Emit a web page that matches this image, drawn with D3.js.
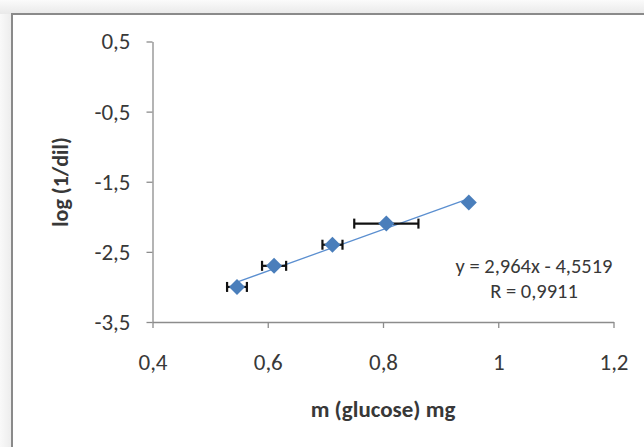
<!DOCTYPE html>
<html>
<head>
<meta charset="utf-8">
<script src="https://cdn.jsdelivr.net/npm/d3@7"></script>
<style>
  html, body { margin: 0; padding: 0; background: #fff; }
  svg { display: block; }
  text { font-family: Carlito, Lato, "Open Sans", sans-serif; }
</style>
</head>
<body>
<script>
// Glucose mass (mg) against log of the reciprocal dilution
const massMg = [0.5466, 0.6110, 0.7123, 0.8058, 0.9489];
const logInvDil = [-3.000, -2.699, -2.398, -2.097, -1.796];
const massErr = [0.0172, 0.0209, 0.0174, 0.0557, 0];
const xTicks = [0.4, 0.6, 0.8, 1.0, 1.2];
const yTicks = [0.5, -0.5, -1.5, -2.5, -3.5];
const slope = 2.964, intercept = -4.5519, rValue = 0.9911;

const W = 644, H = 447;
const svg = d3.select("body").append("svg").attr("width", W).attr("height", H);

// soft shaded surround outside the chart frame
const defs = svg.append("defs");
const gTop = defs.append("linearGradient").attr("id", "shadeTop").attr("x1", 0).attr("y1", 0).attr("x2", 0).attr("y2", 1);
gTop.append("stop").attr("offset", "0%").attr("stop-color", "#fbfbfb");
gTop.append("stop").attr("offset", "100%").attr("stop-color", "#e9e9e9");
const gLeft = defs.append("linearGradient").attr("id", "shadeLeft").attr("x1", 0).attr("y1", 0).attr("x2", 1).attr("y2", 0);
gLeft.append("stop").attr("offset", "0%").attr("stop-color", "#f9f9f9");
gLeft.append("stop").attr("offset", "100%").attr("stop-color", "#ececec");
svg.append("rect").attr("x", 0).attr("y", 0).attr("width", W).attr("height", 14).attr("fill", "url(#shadeTop)");
svg.append("rect").attr("x", 0).attr("y", 14).attr("width", 12).attr("height", H - 14).attr("fill", "url(#shadeLeft)");

// chart frame (continues past the right and bottom edges)
svg.append("rect")
  .attr("x", 12).attr("y", 14).attr("width", W + 20).attr("height", H + 20)
  .attr("fill", "#fff").attr("stroke", "#8a8a8a").attr("stroke-width", 2);

const x = d3.scaleLinear().domain([0.4, 1.2]).range([152.5, 613.5]);
const y = d3.scaleLinear().domain([-3.5, 0.5]).range([322, 41.5]);

const axisColor = "#8c8c8c", labelColor = "#383838";
const tickFont = 23;

const yAxis = svg.append("g").attr("transform", `translate(${x(0.4)},0)`)
  .call(d3.axisLeft(y).tickValues(yTicks).tickSize(6).tickSizeOuter(0).tickPadding(16)
    .tickFormat(d => d3.format(".1f")(d).replace(".", ",").replace("−", "-")));
const xAxis = svg.append("g").attr("transform", `translate(0,${y(-3.5)})`)
  .call(d3.axisBottom(x).tickValues(xTicks).tickSize(6).tickSizeOuter(0).tickPadding(26)
    .tickFormat(d => (d === 1 ? "1" : d3.format(".1f")(d)).replace(".", ",")));

[yAxis, xAxis].forEach(g => {
  g.select(".domain").attr("stroke", axisColor).attr("stroke-width", 1.3);
  g.selectAll(".tick line").attr("stroke", axisColor).attr("stroke-width", 1.3);
  g.selectAll(".tick text").attr("fill", labelColor).attr("font-size", tickFont)
    .attr("font-family", "Carlito, Lato, sans-serif");
});

// linear trendline across the range of the data
const xs = d3.extent(massMg);
svg.append("line")
  .attr("x1", x(xs[0])).attr("y1", y(slope * xs[0] + intercept))
  .attr("x2", x(xs[1])).attr("y2", y(slope * xs[1] + intercept))
  .attr("stroke", "#5b8fd0").attr("stroke-width", 1.3);

const pts = massMg.map((m, i) => ({ m, v: logInvDil[i], e: massErr[i] }));

// horizontal error bars with end caps
const eb = svg.append("g").attr("stroke", "#111").attr("stroke-width", 2.2);
pts.filter(p => p.e > 0).forEach(p => {
  const cy = y(p.v), x0 = x(p.m - p.e), x1 = x(p.m + p.e);
  eb.append("line").attr("x1", x0).attr("x2", x1).attr("y1", cy).attr("y2", cy);
  eb.append("line").attr("x1", x0).attr("x2", x0).attr("y1", cy - 5).attr("y2", cy + 5);
  eb.append("line").attr("x1", x1).attr("x2", x1).attr("y1", cy - 5).attr("y2", cy + 5);
});

// diamond markers
svg.append("g").selectAll("path").data(pts).join("path")
  .attr("transform", p => `translate(${x(p.m)},${y(p.v)})`)
  .attr("d", "M0,-8 L8,0 L0,8 L-8,0 Z")
  .attr("fill", "#4a7ebb");

// regression equation, two centred lines
const fmt = v => String(v).replace(".", ",");
const eq = svg.append("text").attr("x", 534).attr("y", 273).attr("text-anchor", "middle")
  .attr("font-size", 20.5).attr("fill", labelColor);
eq.append("tspan").attr("x", 534).text(`y = ${fmt(slope)}x - ${fmt(Math.abs(intercept))}`);
eq.append("tspan").attr("x", 534).attr("dy", 24.5).text(`R = ${fmt(rValue)}`);

// axis titles
svg.append("text").attr("x", 383).attr("y", 417).attr("text-anchor", "middle")
  .attr("font-size", 23).attr("font-weight", "bold").attr("fill", labelColor)
  .text("m (glucose) mg");
svg.append("text").attr("transform", "translate(68,182) rotate(-90)").attr("text-anchor", "middle")
  .attr("font-size", 22).attr("font-weight", "bold").attr("fill", labelColor)
  .text("log (1/dil)");
</script>
</body>
</html>
